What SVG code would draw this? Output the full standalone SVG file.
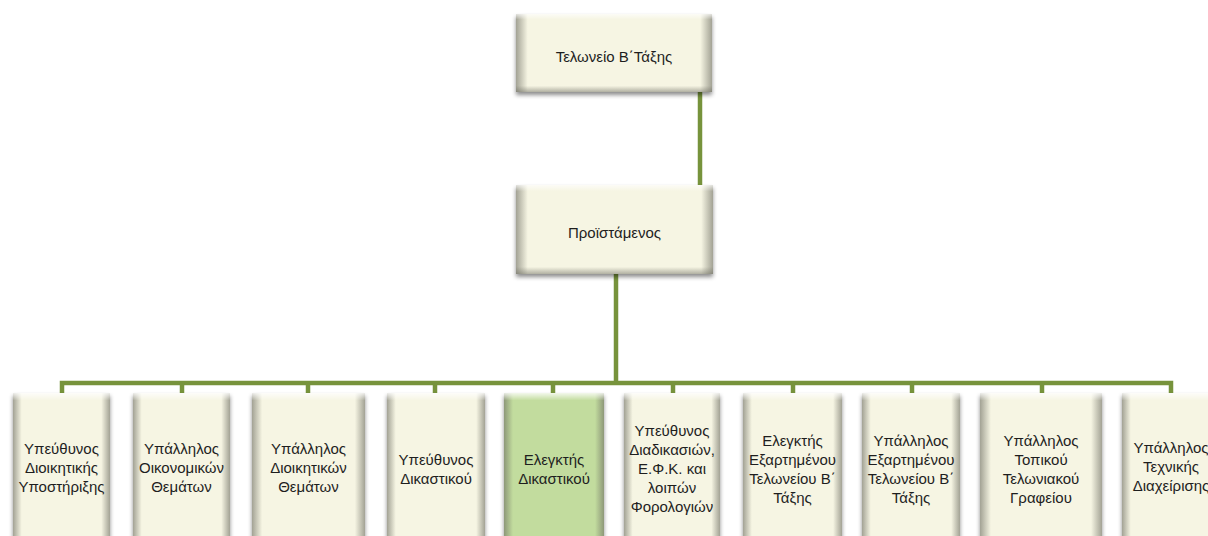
<svg xmlns="http://www.w3.org/2000/svg" width="1208" height="536" viewBox="0 0 1208 536">
<style>
.t{font-family:"Liberation Sans","Noto Sans",sans-serif;font-size:15px;fill:#1e1e1e;text-anchor:middle}
.c{stroke:#77933c;stroke-width:4.5;fill:none}
.b{fill:#f6f5e3}
.g{fill:#c2dc9e}
</style>
<defs>
<filter id="sh" x="-10%" y="-10%" width="120%" height="130%">
<feDropShadow dx="0" dy="3" stdDeviation="2.2" flood-color="#000" flood-opacity="0.45"/>
</filter>
<linearGradient id="hx" x1="0" y1="0" x2="1" y2="0">
<stop offset="0" stop-color="#6b6b60" stop-opacity="0.6"/>
<stop offset="0.06" stop-color="#6b6b60" stop-opacity="0"/>
<stop offset="0.94" stop-color="#6b6b60" stop-opacity="0"/>
<stop offset="1" stop-color="#6b6b60" stop-opacity="0.6"/>
</linearGradient>
<linearGradient id="hy" x1="0" y1="0" x2="0" y2="1">
<stop offset="0" stop-color="#ffffff" stop-opacity="0.7"/>
<stop offset="0.07" stop-color="#ffffff" stop-opacity="0"/>
<stop offset="0.92" stop-color="#6b6b60" stop-opacity="0"/>
<stop offset="1" stop-color="#6b6b60" stop-opacity="0.5"/>
</linearGradient>
<linearGradient id="vx" x1="0" y1="0" x2="1" y2="0">
<stop offset="0" stop-color="#6b6b60" stop-opacity="0.6"/>
<stop offset="0.09" stop-color="#6b6b60" stop-opacity="0"/>
<stop offset="0.91" stop-color="#6b6b60" stop-opacity="0"/>
<stop offset="1" stop-color="#6b6b60" stop-opacity="0.6"/>
</linearGradient>
<linearGradient id="vy" x1="0" y1="0" x2="0" y2="1">
<stop offset="0" stop-color="#ffffff" stop-opacity="0.8"/>
<stop offset="0.05" stop-color="#ffffff" stop-opacity="0"/>
</linearGradient>
</defs>

<g id="connectors">
<line class="c" x1="700" y1="92" x2="700" y2="186"/>
<line class="c" x1="616" y1="274" x2="616" y2="383"/>
<polyline class="c" points="62,395 62,383 1171,383 1171,395"/>
<line class="c" x1="182" y1="383" x2="182" y2="395"/>
<line class="c" x1="308" y1="383" x2="308" y2="395"/>
<line class="c" x1="435" y1="383" x2="435" y2="395"/>
<line class="c" x1="553" y1="383" x2="553" y2="395"/>
<line class="c" x1="673" y1="383" x2="673" y2="395"/>
<line class="c" x1="793" y1="383" x2="793" y2="395"/>
<line class="c" x1="912" y1="383" x2="912" y2="395"/>
<line class="c" x1="1042" y1="383" x2="1042" y2="395"/>
</g>

<g id="n-top">
<rect class="b" x="516" y="14" width="196" height="78" filter="url(#sh)"/>
<rect x="516" y="14" width="196" height="78" fill="url(#hx)"/>
<rect x="516" y="14" width="196" height="78" fill="url(#hy)"/>
<text class="t" x="614" y="62">Τελωνείο Β΄Τάξης</text>
</g>

<g id="n-head">
<rect class="b" x="516" y="185" width="197" height="89" filter="url(#sh)"/>
<rect x="516" y="185" width="197" height="89" fill="url(#hx)"/>
<rect x="516" y="185" width="197" height="89" fill="url(#hy)"/>
<text class="t" x="614.5" y="238">Προϊστάμενος</text>
</g>

<g id="n1">
<rect class="b" x="13" y="393" width="97" height="150" filter="url(#sh)"/>
<rect x="13" y="393" width="97" height="150" fill="url(#vx)"/>
<rect x="13" y="393" width="97" height="150" fill="url(#vy)"/>
<text class="t" x="61.5" y="454">Υπεύθυνος</text>
<text class="t" x="61.5" y="473">Διοικητικής</text>
<text class="t" x="61.5" y="492">Υποστήριξης</text>
</g>

<g id="n2">
<rect class="b" x="133" y="393" width="97" height="150" filter="url(#sh)"/>
<rect x="133" y="393" width="97" height="150" fill="url(#vx)"/>
<rect x="133" y="393" width="97" height="150" fill="url(#vy)"/>
<text class="t" x="181.5" y="454">Υπάλληλος</text>
<text class="t" x="181.5" y="473">Οικονομικών</text>
<text class="t" x="181.5" y="492">Θεμάτων</text>
</g>

<g id="n3">
<rect class="b" x="252" y="393" width="113" height="150" filter="url(#sh)"/>
<rect x="252" y="393" width="113" height="150" fill="url(#vx)"/>
<rect x="252" y="393" width="113" height="150" fill="url(#vy)"/>
<text class="t" x="308.5" y="454">Υπάλληλος</text>
<text class="t" x="308.5" y="473">Διοικητικών</text>
<text class="t" x="308.5" y="492">Θεμάτων</text>
</g>

<g id="n4">
<rect class="b" x="387" y="393" width="98" height="150" filter="url(#sh)"/>
<rect x="387" y="393" width="98" height="150" fill="url(#vx)"/>
<rect x="387" y="393" width="98" height="150" fill="url(#vy)"/>
<text class="t" x="436" y="465">Υπεύθυνος</text>
<text class="t" x="436" y="484">Δικαστικού</text>
</g>

<g id="n5">
<rect class="g" x="504" y="393" width="100" height="150" filter="url(#sh)"/>
<rect x="504" y="393" width="100" height="150" fill="url(#vx)"/>
<rect x="504" y="393" width="100" height="150" fill="url(#vy)"/>
<text class="t" x="554" y="465">Ελεγκτής</text>
<text class="t" x="554" y="484">Δικαστικού</text>
</g>

<g id="n6">
<rect class="b" x="624" y="393" width="96" height="150" filter="url(#sh)"/>
<rect x="624" y="393" width="96" height="150" fill="url(#vx)"/>
<rect x="624" y="393" width="96" height="150" fill="url(#vy)"/>
<text class="t" x="672" y="436">Υπεύθυνος</text>
<text class="t" x="672" y="455">Διαδικασιών,</text>
<text class="t" x="672" y="474">Ε.Φ.Κ. και</text>
<text class="t" x="672" y="493">λοιπών</text>
<text class="t" x="672" y="512">Φορολογιών</text>
</g>

<g id="n7">
<rect class="b" x="743" y="393" width="99" height="150" filter="url(#sh)"/>
<rect x="743" y="393" width="99" height="150" fill="url(#vx)"/>
<rect x="743" y="393" width="99" height="150" fill="url(#vy)"/>
<text class="t" x="792.5" y="446">Ελεγκτής</text>
<text class="t" x="792.5" y="465">Εξαρτημένου</text>
<text class="t" x="792.5" y="484">Τελωνείου Β΄</text>
<text class="t" x="792.5" y="503">Τάξης</text>
</g>

<g id="n8">
<rect class="b" x="862" y="393" width="98" height="150" filter="url(#sh)"/>
<rect x="862" y="393" width="98" height="150" fill="url(#vx)"/>
<rect x="862" y="393" width="98" height="150" fill="url(#vy)"/>
<text class="t" x="911" y="446">Υπάλληλος</text>
<text class="t" x="911" y="465">Εξαρτημένου</text>
<text class="t" x="911" y="484">Τελωνείου Β΄</text>
<text class="t" x="911" y="503">Τάξης</text>
</g>

<g id="n9">
<rect class="b" x="980" y="393" width="122" height="150" filter="url(#sh)"/>
<rect x="980" y="393" width="122" height="150" fill="url(#vx)"/>
<rect x="980" y="393" width="122" height="150" fill="url(#vy)"/>
<text class="t" x="1041" y="446">Υπάλληλος</text>
<text class="t" x="1041" y="465">Τοπικού</text>
<text class="t" x="1041" y="484">Τελωνιακού</text>
<text class="t" x="1041" y="503">Γραφείου</text>
</g>

<g id="n10">
<rect class="b" x="1122" y="393" width="98" height="150" filter="url(#sh)"/>
<rect x="1122" y="393" width="98" height="150" fill="url(#vx)"/>
<rect x="1122" y="393" width="98" height="150" fill="url(#vy)"/>
<text class="t" x="1171" y="453">Υπάλληλος</text>
<text class="t" x="1171" y="472">Τεχνικής</text>
<text class="t" x="1171" y="491">Διαχείρισης</text>
</g>
</svg>
